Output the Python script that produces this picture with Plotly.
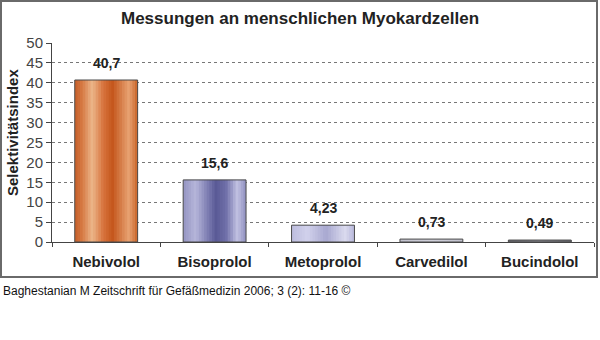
import plotly.graph_objects as go

# ---- data ----
categories = ["Nebivolol", "Bisoprolol", "Metoprolol", "Carvedilol", "Bucindolol"]
values = [40.7, 15.6, 4.23, 0.73, 0.49]
value_labels = ["40,7", "15,6", "4,23", "0,73", "0,49"]
y_ticks = [0, 5, 10, 15, 20, 25, 30, 35, 40, 45, 50]
title_text = "Messungen an menschlichen Myokardzellen"
y_title = "Selektivitätsindex"
footer_text = "Baghestanian M Zeitschrift für Gefäßmedizin 2006; 3 (2): 11-16 ©"

# ---- styling: gradient profiles per bar (position 0..1, colour) ----
profiles = [
    [(0.0, "#c65e28"), (0.12, "#d67a44"), (0.28, "#ecb68a"), (0.45, "#d8743e"),
     (0.6, "#c4561c"), (0.75, "#d8824e"), (0.86, "#e8a272"), (1.0, "#c86226")],
    [(0.0, "#9494c2"), (0.2, "#b6b6da"), (0.38, "#8080b4"), (0.52, "#5a5a96"),
     (0.68, "#6e6ea8"), (0.86, "#c2c2e2"), (1.0, "#9090c0")],
    [(0.0, "#bcbcde"), (0.25, "#d2d2ec"), (0.55, "#a8a8d0"), (0.85, "#dadaee"),
     (1.0, "#b8b8dc")],
    [(0.0, "#c0c0cc"), (0.5, "#d0d0da"), (1.0, "#c0c0cc")],
    [(0.0, "#6c6c74"), (0.5, "#8a8a92"), (1.0, "#6c6c74")],
]


def hex2rgb(h):
    h = h.lstrip("#")
    return tuple(int(h[i:i + 2], 16) for i in (0, 2, 4))


def interp(profile, t):
    for (t0, c0), (t1, c1) in zip(profile[:-1], profile[1:]):
        if t0 <= t <= t1:
            f = 0 if t1 == t0 else (t - t0) / (t1 - t0)
            a, b = hex2rgb(c0), hex2rgb(c1)
            r = [round(a[i] + (b[i] - a[i]) * f) for i in range(3)]
            return "rgb(%d,%d,%d)" % tuple(r)
    return profile[-1][1]


BAR_W = 0.58
N_STRIPES = 24

fig = go.Figure()
sw = BAR_W / N_STRIPES
for k in range(N_STRIPES):
    t = (k + 0.5) / N_STRIPES
    w = sw if k == N_STRIPES - 1 else sw * 2.0
    fig.add_trace(go.Bar(
        x=categories, y=values,
        width=[w] * len(categories),
        offset=[-BAR_W / 2 + k * sw] * len(categories),
        marker=dict(color=[interp(p, t) for p in profiles], line=dict(width=0)),
        hoverinfo="skip", showlegend=False,
    ))
# outline
fig.add_trace(go.Bar(
    x=categories, y=values, width=[BAR_W] * len(categories),
    marker=dict(color="rgba(0,0,0,0)", line=dict(color="#4a4a4a", width=1)),
    showlegend=False,
))

# ---- layout geometry in pixels ----
W, H = 600, 340
L, R, T, B = 52, 594, 43, 242


def px_x(p):
    return (p - L) / (R - L)


def px_y(p):
    return (B - p) / (B - T)


for cat, v, lab in zip(categories, values, value_labels):
    fig.add_annotation(x=cat, y=v, yref="y", text="<b>%s</b>" % lab, showarrow=False,
                       yanchor="bottom", yshift=7,
                       font=dict(family="Liberation Sans", size=14, color="#222"))

fig.add_annotation(xref="paper", yref="paper", x=px_x(12), y=px_y(133), text="<b>%s</b>" % y_title,
                   textangle=-90, showarrow=False, xanchor="center", yanchor="middle",
                   font=dict(family="Liberation Sans", size=15, color="#222"))

fig.add_annotation(xref="paper", yref="paper", x=px_x(1), y=px_y(291), text=footer_text,
                   showarrow=False, xanchor="left", yanchor="middle",
                   font=dict(family="Liberation Sans", size=12, color="#111"))

fig.add_shape(type="rect", xref="paper", yref="paper",
              x0=px_x(1), x1=px_x(597), y0=px_y(1), y1=px_y(277),
              line=dict(color="#6a6a6a", width=2), layer="below")

fig.update_layout(
    width=W, height=H,
    margin=dict(l=L, r=W - R, t=T, b=H - B, pad=0),
    paper_bgcolor="white", plot_bgcolor="white",
    barmode="overlay",
    title=dict(text="<b>%s</b>" % title_text, x=0.5, xanchor="center",
               xref="container", yref="container", y=1 - 18 / H, yanchor="middle",
               font=dict(family="Liberation Sans", size=17, color="#222")),
    font=dict(family="Liberation Sans"),
    xaxis=dict(type="category", range=[-0.5, 4.5], showline=True, linecolor="#444",
               linewidth=1, ticks="outside", tickson="boundaries", ticklen=4,
               tickcolor="#444", showgrid=False, ticklabelstandoff=6,
               tickfont=dict(family="Liberation Sans", size=15, color="#222"),
               tickvals=categories, ticktext=["<b>%s</b>" % c for c in categories]),
    yaxis=dict(range=[0, 50], tickvals=y_ticks, showline=True, linecolor="#444",
               linewidth=1, ticks="outside", ticklen=5, tickcolor="#444",
               showgrid=True, gridcolor="#777", griddash="dot", gridwidth=1,
               zeroline=False,
               tickfont=dict(family="Liberation Sans", size=15, color="#444")),
)

fig.write_html("out.html")
